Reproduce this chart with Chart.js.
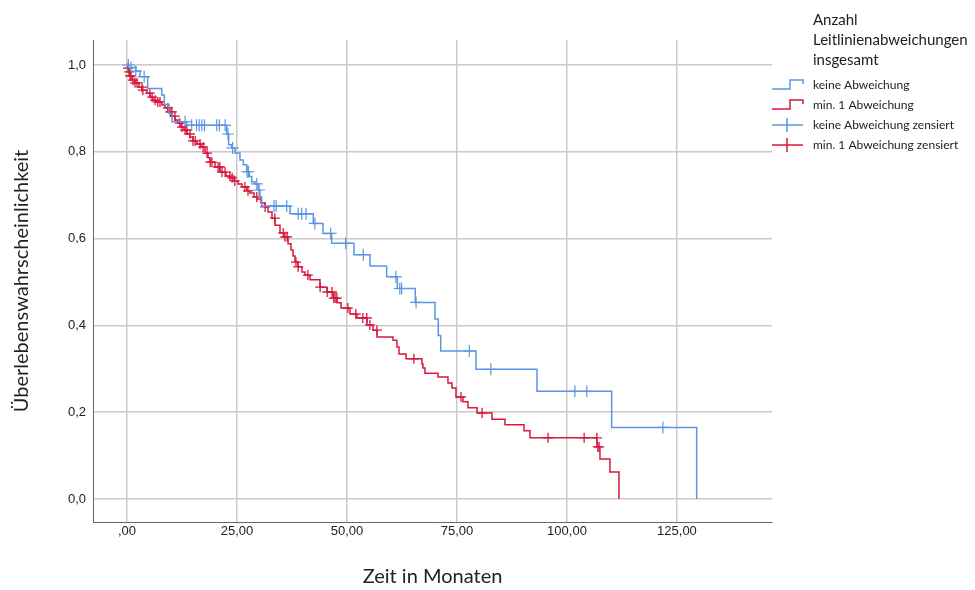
<!DOCTYPE html>
<html>
<head>
<meta charset="utf-8">
<script src="https://cdn.jsdelivr.net/npm/chart.js@4"></script>
<style>
  body { margin: 0; background: #fff; }
  #wrap { width: 975px; height: 590px; }
</style>
</head>
<body>
<div id="wrap"><canvas id="km" width="975" height="590"></canvas></div>
<script>
// Kaplan-Meier: Zeit (Monate) -> Überlebenswahrscheinlichkeit
const blueTimes = [0, 0.34, 1.98, 2.95, 4.70, 7.89, 8.48, 9.55, 10.23, 13.57, 22.66, 23.10, 23.80, 24.55, 25.68, 26.43, 27.20, 27.80, 28.34, 29.09, 29.84, 30.23, 30.61, 37.05, 42.34, 44.55, 46.52, 51.59, 55.23, 59.02, 61.43, 65.52, 70.0, 70.75, 71.3, 79.32, 93.18, 110.16, 129.48];
const blueSurv = [1, 0.994, 0.986, 0.973, 0.946, 0.931, 0.909, 0.889, 0.869, 0.861, 0.841, 0.816, 0.809, 0.797, 0.781, 0.770, 0.754, 0.743, 0.731, 0.726, 0.712, 0.696, 0.675, 0.657, 0.635, 0.612, 0.589, 0.563, 0.537, 0.512, 0.485, 0.453, 0.415, 0.377, 0.341, 0.299, 0.248, 0.165, 0];
const blueCensored = [0.3, 0.9, 2.0, 3.9, 13.2, 14.7, 15.8, 16.4, 17.0, 17.6, 20.4, 21.0, 22.3, 22.95, 24.0, 27.3, 27.6, 29.5, 30.0, 33.4, 33.9, 36.3, 38.9, 39.7, 40.7, 42.7, 46.3, 49.7, 53.7, 61.1, 62.0, 62.4, 65.7, 77.8, 82.7, 101.8, 104.5, 121.8];

const redTimes = [0, 0.23, 0.45, 0.68, 1.14, 1.82, 2.73, 3.41, 4.55, 5.23, 5.91, 6.82, 7.95, 8.64, 9.32, 10.23, 10.91, 11.59, 12.27, 12.95, 13.64, 14.32, 15.0, 15.91, 16.82, 17.73, 18.41, 18.86, 20.0, 21.14, 22.5, 23.41, 24.32, 25.23, 26.14, 27.27, 27.95, 28.86, 29.55, 30.45, 31.36, 32.05, 32.95, 33.64, 34.77, 35.68, 36.59, 37.27, 37.73, 38.18, 38.86, 39.77, 40.45, 41.59, 43.86, 45.45, 46.82, 47.73, 48.64, 50.68, 52.27, 54.55, 55.91, 56.82, 60.45, 61.36, 61.82, 63.41, 67.05, 67.27, 67.73, 70.68, 72.95, 73.86, 74.77, 76.36, 77.5, 79.55, 82.95, 85.91, 90.23, 91.59, 106.82, 107.5, 109.77, 111.82];
const redSurv = [1, 0.993, 0.984, 0.975, 0.965, 0.959, 0.949, 0.942, 0.935, 0.926, 0.919, 0.915, 0.908, 0.901, 0.892, 0.882, 0.873, 0.866, 0.857, 0.850, 0.841, 0.834, 0.825, 0.818, 0.811, 0.797, 0.786, 0.776, 0.765, 0.753, 0.744, 0.740, 0.733, 0.726, 0.719, 0.710, 0.705, 0.696, 0.691, 0.682, 0.673, 0.661, 0.647, 0.631, 0.613, 0.604, 0.588, 0.574, 0.560, 0.546, 0.535, 0.523, 0.516, 0.505, 0.488, 0.477, 0.463, 0.452, 0.440, 0.426, 0.417, 0.401, 0.389, 0.373, 0.366, 0.350, 0.334, 0.323, 0.311, 0.302, 0.290, 0.281, 0.267, 0.256, 0.235, 0.224, 0.210, 0.198, 0.184, 0.171, 0.157, 0.141, 0.120, 0.092, 0.062, 0];
const redCensored = [0.23, 0.45, 0.68, 0.9, 1.36, 1.82, 2.27, 3.4, 3.6, 5.2, 5.7, 6.4, 7.0, 7.5, 9.3, 9.8, 10.2, 10.9, 12.0, 12.5, 13.2, 13.6, 14.3, 15.0, 15.5, 16.6, 17.3, 18.2, 18.9, 19.3, 20.7, 21.1, 21.6, 22.3, 23.4, 23.9, 24.5, 26.8, 27.5, 29.5, 31.4, 33.6, 35.5, 35.9, 36.4, 38.4, 38.9, 41.1, 43.9, 45.5, 46.6, 47.0, 47.3, 47.7, 50.2, 52.0, 53.6, 54.5, 55.2, 56.8, 65.2, 75.9, 80.7, 95.7, 103.9, 106.8, 107.0, 107.3];

const xTicks = [0, 25, 50, 75, 100, 125];
const yTicks = [0, 0.2, 0.4, 0.6, 0.8, 1.0];

const legendTitle = ['Anzahl', 'Leitlinienabweichungen', 'insgesamt'];
const legendLabels = ['keine Abweichung', 'min. 1 Abweichung', 'keine Abweichung zensiert', 'min. 1 Abweichung zensiert'];

const BLUE = '#5a96e3';
const RED = '#d7193c';

function pts(times, surv) {
  return times.map((t, i) => ({ x: t, y: surv[i] }));
}
// censored marks sit on the curve at their time
function onCurve(censored, times, surv) {
  return censored.map(t => {
    let s = surv[0];
    for (let i = 0; i < times.length; i++) { if (times[i] <= t) s = surv[i]; }
    return { x: t, y: s };
  });
}

const legendPlugin = {
  id: 'kmLegend',
  afterDraw(chart) {
    const ctx = chart.ctx;
    ctx.save();
    ctx.fillStyle = '#222';
    ctx.textBaseline = 'middle';
    ctx.font = '15px Lato';
    legendTitle.forEach((s, i) => ctx.fillText(s, 813, 20 + i * 20));
    ctx.font = '12px Lato';
    const cols = [BLUE, RED, BLUE, RED];
    legendLabels.forEach((s, i) => {
      const y = 85 + i * 20;
      ctx.strokeStyle = cols[i];
      ctx.lineWidth = 1.5;
      ctx.beginPath();
      if (i < 2) {
        ctx.moveTo(772, y + 4); ctx.lineTo(790, y + 4); ctx.lineTo(790, y - 5);
        ctx.lineTo(803, y - 5); ctx.lineTo(803, y - 1);
      } else {
        ctx.moveTo(772, y); ctx.lineTo(803, y);
        ctx.moveTo(787, y - 7); ctx.lineTo(787, y + 7);
      }
      ctx.stroke();
      ctx.fillText(s, 813, y);
    });
    ctx.restore();
  }
};

const tickFont = { family: 'Liberation Sans', size: 13 };
const titleFont = { family: 'Lato', size: 20 };

new Chart(document.getElementById('km'), {
  type: 'scatter',
  data: {
    datasets: [
      { data: pts(blueTimes, blueSurv), showLine: true, stepped: true, borderColor: BLUE, borderWidth: 1.5, pointRadius: 0 },
      { data: pts(redTimes, redSurv), showLine: true, stepped: true, borderColor: RED, borderWidth: 1.5, pointRadius: 0 },
      { data: onCurve(blueCensored, blueTimes, blueSurv), pointStyle: 'cross', pointRadius: 6, borderColor: BLUE, borderWidth: 1.2 },
      { data: onCurve(redCensored, redTimes, redSurv), pointStyle: 'cross', pointRadius: 5, borderColor: RED, borderWidth: 1.3 }
    ]
  },
  options: {
    responsive: false,
    animation: false,
    layout: { padding: { left: 0, top: 40, right: 203, bottom: 0 } },
    plugins: { legend: { display: false }, tooltip: { enabled: false } },
    scales: {
      x: {
        type: 'linear',
        min: -7.73, max: 146.6,
        afterBuildTicks: s => { s.ticks = xTicks.map(v => ({ value: v })); },
        afterFit: s => { s.height = 68; },
        grid: { color: '#cacaca', lineWidth: 1.5, drawTicks: false },
        border: { color: '#666', width: 1 },
        ticks: {
          font: tickFont, color: '#222', padding: 2, maxRotation: 0,
          callback: v => v === 0 ? ',00' : v.toFixed(2).replace('.', ',')
        },
        title: { display: true, text: 'Zeit in Monaten', font: titleFont, color: '#222', padding: { top: 0, bottom: 1 } }
      },
      y: {
        type: 'linear',
        min: -0.053, max: 1.0576,
        afterBuildTicks: s => { s.ticks = yTicks.map(v => ({ value: v })); },
        afterFit: s => { s.width = 93; },
        grid: { color: '#cacaca', lineWidth: 1.5, drawTicks: false },
        border: { color: '#666', width: 1 },
        ticks: {
          font: tickFont, color: '#222', padding: 7,
          callback: v => v.toFixed(1).replace('.', ',')
        },
        title: { display: true, text: 'Überlebenswahrscheinlichkeit', font: titleFont, color: '#222', padding: { top: 10, bottom: 0 } }
      }
    }
  },
  plugins: [legendPlugin]
});
</script>
</body>
</html>
